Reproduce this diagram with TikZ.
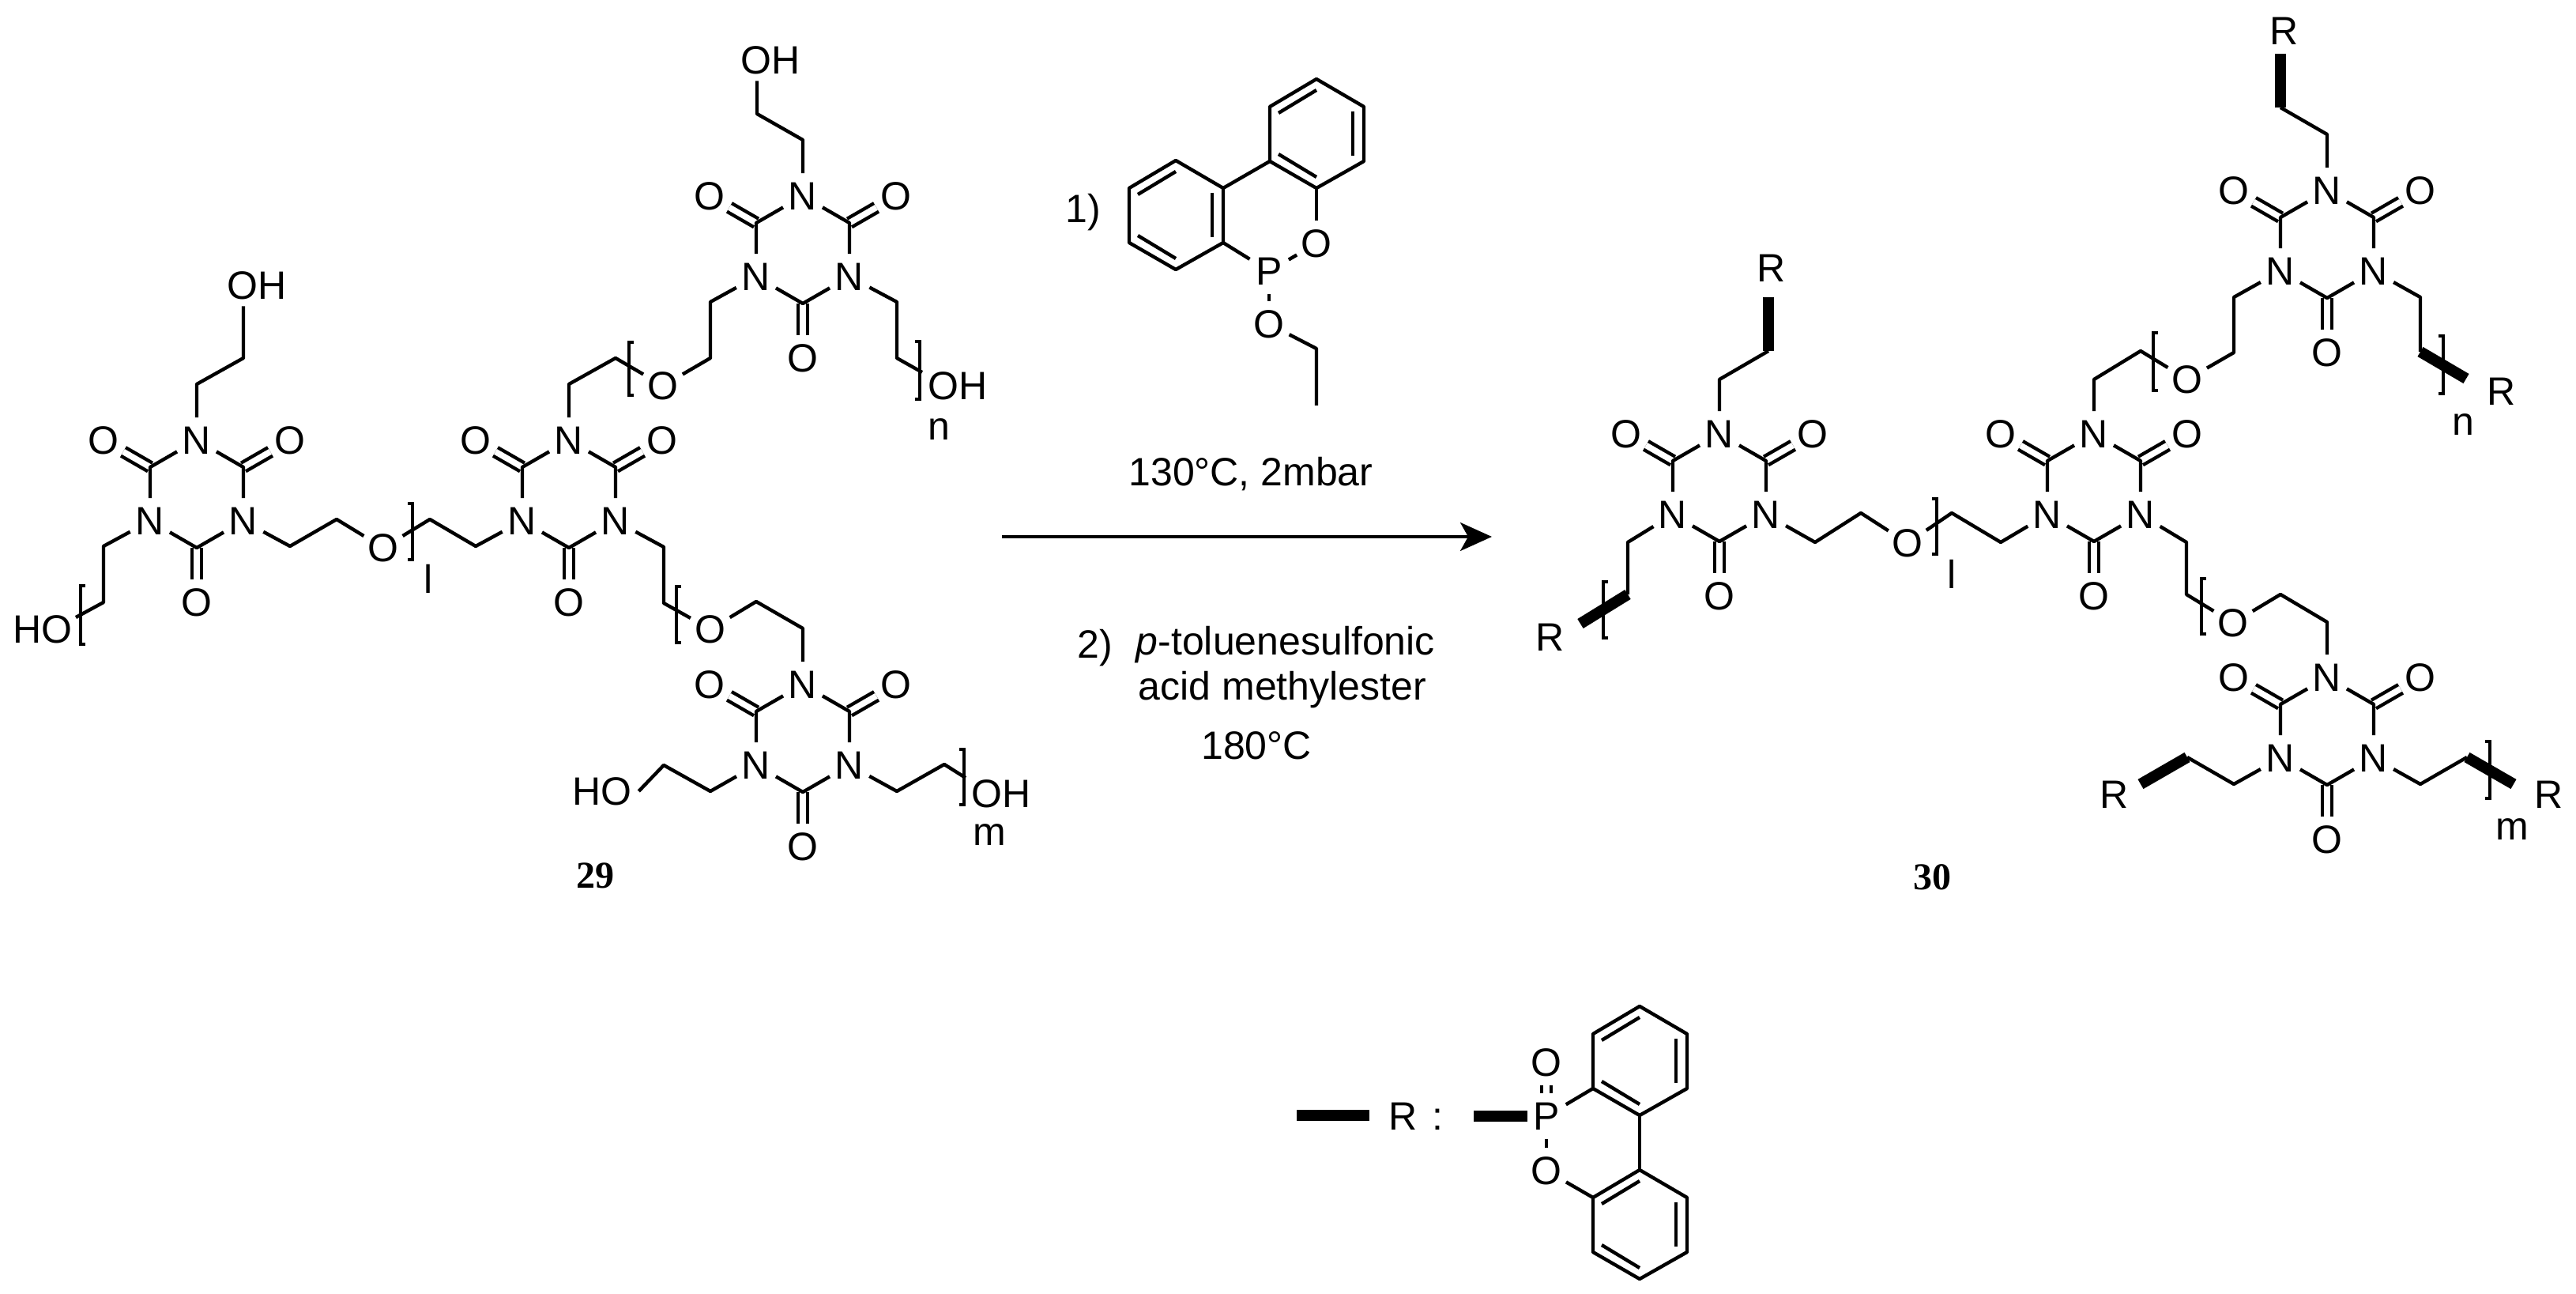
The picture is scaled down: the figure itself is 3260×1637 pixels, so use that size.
\documentclass[tikz,border=0pt]{standalone}
\usepackage{fontspec}
\setmainfont{Liberation Sans}
\newfontfamily\numfont{Liberation Serif}
\usetikzlibrary{arrows.meta}
\tikzset{
  bond/.style={line width=1.1pt,line join=round},
  thickbond/.style={line width=3.5pt,line join=miter},
  dblbond/.style={line width=1.1pt,double,double distance=1.9pt},
  brk/.style={line width=1.1pt},
  atom/.style={circle,inner sep=0pt,minimum size=14pt},
  lbl/.style={inner sep=2pt},
  txt/.style={inner sep=0pt},
  cmpd/.style={inner sep=0pt,font=\numfont\bfseries\fontsize{12}{14}\selectfont},
}
% triazinetrione ring, the upper N at (#2,#3)
\newcommand{\isoring}[3]{%
  \begin{scope}[shift={(#2,#3)}]
    \node[atom] (#1n1) at (0,0) {N};
    \node[atom] (#1n2) at (-59,102) {N};
    \node[atom] (#1n3) at (59,102) {N};
    \coordinate (#1c1) at (-59,34);
    \coordinate (#1c2) at (59,34);
    \coordinate (#1c3) at (0,136);
    \node[atom] (#1o1) at (-118,0) {O};
    \node[atom] (#1o2) at (118,0) {O};
    \node[atom] (#1o3) at (0,205) {O};
    \draw[dblbond] (#1c1) -- (#1o1);
    \draw[dblbond] (#1c2) -- (#1o2);
    \draw[dblbond] (#1c3) -- (#1o3);
    \draw[bond] (#1n1) -- (#1c1) -- (#1n2) -- (#1c3) -- (#1n3) -- (#1c2) -- (#1n1);
  \end{scope}}
% benzene ring, centre at (#2,#3)
\newcommand{\benzring}[3]{%
  \begin{scope}[shift={(#2,#3)}]
    \coordinate (#1v1) at (0,-69);
    \coordinate (#1v2) at (60,-34);
    \coordinate (#1v3) at (60,35);
    \coordinate (#1v4) at (0,69);
    \coordinate (#1v5) at (-59,35);
    \coordinate (#1v6) at (-59,-34);
    \draw[bond] (#1v1) -- (#1v2) -- (#1v3) -- (#1v4) -- (#1v5) -- (#1v6) -- cycle;
    \draw[bond] (-48,-26) -- (0,-55);
    \draw[bond] (-48,26) -- (0,55);
    \draw[bond] (46,-28) -- (46,28);
  \end{scope}}
\newcommand{\lbrk}[3]{\draw[brk] (#1+6,#2) -- (#1,#2) -- (#1,#3) -- (#1+6,#3);}
\newcommand{\rbrk}[3]{\draw[brk] (#1-6,#2) -- (#1,#2) -- (#1,#3) -- (#1-6,#3);}

\begin{document}
\begin{tikzpicture}[x=0.25pt,y=0.25pt,yscale=-1,xscale=1,font=\fontsize{12.5}{15}\selectfont]
\useasboundingbox (0,0) rectangle (3260,1637);

% compound 29
\isoring{a}{249}{557}
\isoring{b}{720}{557}
\isoring{c}{1016}{248}
\isoring{d}{1016}{866}

\node[lbl] (oha) at (325,361) {OH};
\coordinate (aa1) at (249,486);
\coordinate (aa2) at (308,453);
\draw[bond] (an1) -- (aa1) -- (aa2) -- (oha.south -| aa2);

\node[lbl] (hoa) at (54,796) {HO};
\coordinate (ab1) at (131,691);
\coordinate (ab2) at (131,762);
\coordinate (ab3) at (96,781);
\draw[bond] (an2) -- (ab1) -- (ab2) -- (ab3);
\lbrk{102}{741}{815}

\node[atom] (oab) at (485,693) {O};
\coordinate (ac1) at (367,691);
\coordinate (ac2) at (426,657);
\coordinate (ac3) at (544,657);
\coordinate (ac4) at (602,691);
\draw[bond] (an3) -- (ac1) -- (ac2) -- (oab) -- (ac3) -- (ac4) -- (bn2);
\rbrk{522}{637}{708}
\node[txt] (subl) at (542,732) {l};

\node[atom] (obc) at (839,488) {O};
\coordinate (bc1) at (720,486);
\coordinate (bc2) at (779,453);
\coordinate (bc3) at (899,453);
\coordinate (bc4) at (899,382);
\draw[bond] (bn1) -- (bc1) -- (bc2) -- (obc) -- (bc3) -- (bc4) -- (cn2);
\lbrk{796}{433}{500}

\node[lbl] (ohc) at (975,76) {OH};
\coordinate (ca1) at (1016,177);
\coordinate (ca2) at (958,144);
\draw[bond] (cn1) -- (ca1) -- (ca2) -- (ohc.south -| ca2);

\node[lbl] (ohn) at (1212,488) {OH};
\coordinate (cb1) at (1135,382);
\coordinate (cb2) at (1135,453);
\coordinate (cb3) at (1167,471);
\draw[bond] (cn3) -- (cb1) -- (cb2) -- (cb3);
\rbrk{1164}{432}{505}
\node[txt] (subn) at (1188,543) {n};

\node[atom] (obd) at (899,796) {O};
\coordinate (bd1) at (840,692);
\coordinate (bd2) at (840,763);
\coordinate (bd3) at (957,761);
\coordinate (bd4) at (1016,795);
\draw[bond] (bn3) -- (bd1) -- (bd2) -- (obd) -- (bd3) -- (bd4) -- (dn1);
\lbrk{856}{742}{813}

\node[lbl] (hod) at (762,1001) {HO};
\coordinate (da1) at (899,1001);
\coordinate (da2) at (840,968);
\draw[bond] (dn2) -- (da1) -- (da2) -- (hod.east);

\node[lbl] (ohm) at (1267,1004) {OH};
\coordinate (db1) at (1135,1001);
\coordinate (db2) at (1195,967);
\coordinate (db3) at (1222,984);
\draw[bond] (dn3) -- (db1) -- (db2) -- (db3);
\rbrk{1220}{948}{1018}
\node[txt] (subm) at (1252,1056) {m};

\node[cmpd] (lab29) at (753,1108) {29};

% reagent
\benzring{la}{1488}{272}
\benzring{lb}{1666}{169}
\node[atom] (rp) at (1606,343) {P};
\node[atom] (ro1) at (1666,308) {O};
\node[atom] (ro2) at (1606,410) {O};
\coordinate (re1) at (1666,441);
\coordinate (re2) at (1666,513);
\draw[bond] (lav2) -- (lbv5);
\draw[bond] (lav3) -- (rp);
\draw[bond] (rp) -- (ro1);
\draw[bond] (ro1) -- (lbv4);
\draw[bond] (rp) -- (ro2);
\draw[bond] (ro2) -- (re1) -- (re2);
\node[txt] (step1) at (1371,269) {1)};
\node[txt] (cond1) at (1583,600) {130°C, 2mbar};

% arrow
\coordinate (arrowa) at (1268,679);
\coordinate (arrowb) at (1888,679);
\draw[line width=0.8pt,-{Stealth[length=10pt,width=9pt,inset=2.5pt]}] (arrowa) -- (arrowb);

\node[txt] (step2) at (1386,820) {2)};
\node[txt,anchor=west] (cond2) at (1437,816) {\textit{p}-toluenesulfonic};
\node[txt] (cond3) at (1623,873) {acid methylester};
\node[txt] (cond4) at (1590,943) {180°C};

% compound 30
\isoring{e}{2176}{549}
\isoring{f}{2650}{549}
\isoring{g}{2945}{241}
\isoring{h}{2945}{857}

\node[txt] (re) at (2242,339) {R};
\coordinate (ea1) at (2176,480);
\coordinate (ea2) at (2238,444);
\coordinate (ea3) at (2238,376);
\draw[bond] (en1) -- (ea1) -- (ea2);
\draw[thickbond] (ea2) -- (ea3);

\node[txt] (rl) at (1962,806) {R};
\coordinate (eb1) at (2060,686);
\coordinate (eb2) at (2060,752);
\coordinate (eb3) at (2000,789);
\draw[bond] (en2) -- (eb1) -- (eb2);
\draw[thickbond] (eb2) -- (eb3);
\lbrk{2029}{736}{807}

\node[atom] (oef) at (2414,687) {O};
\coordinate (ec1) at (2297,686);
\coordinate (ec2) at (2355,649);
\coordinate (ec3) at (2470,649);
\coordinate (ec4) at (2532,686);
\draw[bond] (en3) -- (ec1) -- (ec2) -- (oef) -- (ec3) -- (ec4) -- (fn2);
\rbrk{2451}{631}{701}
\node[txt] (subl2) at (2470,726) {l};

\node[atom] (ofg) at (2768,480) {O};
\coordinate (fa1) at (2650,480);
\coordinate (fa2) at (2709,444);
\coordinate (fa3) at (2827,446);
\coordinate (fa4) at (2827,376);
\draw[bond] (fn1) -- (fa1) -- (fa2) -- (ofg) -- (fa3) -- (fa4) -- (gn2);
\lbrk{2725}{421}{494}

\node[txt] (rg) at (2891,39) {R};
\coordinate (ga1) at (2945,170);
\coordinate (ga2) at (2886,136);
\coordinate (ga3) at (2886,68);
\draw[bond] (gn1) -- (ga1) -- (ga2);
\draw[thickbond] (ga2) -- (ga3);

\node[txt] (rn) at (3166,495) {R};
\coordinate (gb1) at (3063,376);
\coordinate (gb2) at (3063,445);
\coordinate (gb3) at (3121,479);
\draw[bond] (gn3) -- (gb1) -- (gb2);
\draw[thickbond] (gb2) -- (gb3);
\rbrk{3092}{425}{498}
\node[txt] (subn2) at (3117,537) {n};

\node[atom] (ofh) at (2826,788) {O};
\coordinate (fb1) at (2767,686);
\coordinate (fb2) at (2767,752);
\coordinate (fb3) at (2886,752);
\coordinate (fb4) at (2945,787);
\draw[bond] (fn3) -- (fb1) -- (fb2) -- (ofh) -- (fb3) -- (fb4) -- (hn1);
\lbrk{2786}{732}{802}

\node[txt] (rh) at (2676,1005) {R};
\coordinate (ha1) at (2827,992);
\coordinate (ha2) at (2768,958);
\coordinate (ha3) at (2709,992);
\draw[bond] (hn2) -- (ha1) -- (ha2);
\draw[thickbond] (ha2) -- (ha3);

\node[txt] (rm) at (3226,1005) {R};
\coordinate (hb1) at (3063,992);
\coordinate (hb2) at (3122,958);
\coordinate (hb3) at (3181,992);
\draw[bond] (hn3) -- (hb1) -- (hb2);
\draw[thickbond] (hb2) -- (hb3);
\rbrk{3151}{938}{1010}
\node[txt] (subm2) at (3179,1049) {m};

\node[cmpd] (lab30) at (2445,1110) {30};

% R group
\coordinate (bara) at (1641,1411);
\coordinate (barb) at (1733,1411);
\draw[line width=3.5pt] (bara) -- (barb);
\node[txt] (rdef) at (1776,1412) {R};
\node[txt] (colon) at (1819,1416) {:};
\benzring{ua}{2075}{1342}
\benzring{ub}{2075}{1549}
\node[atom] (up) at (1957,1412) {P};
\node[atom] (uo1) at (1957,1344) {O};
\node[atom] (uo2) at (1957,1481) {O};
\coordinate (barc) at (1865,1412);
\coordinate (bard) at (1933,1412);
\draw[line width=3.5pt] (barc) -- (bard);
\draw[dblbond] (up) -- (uo1);
\draw[bond] (up) -- (uo2);
\draw[bond] (up) -- (uav5);
\draw[bond] (uo2) -- (ubv6);
\draw[bond] (uav4) -- (ubv1);
\end{tikzpicture}
\end{document}
